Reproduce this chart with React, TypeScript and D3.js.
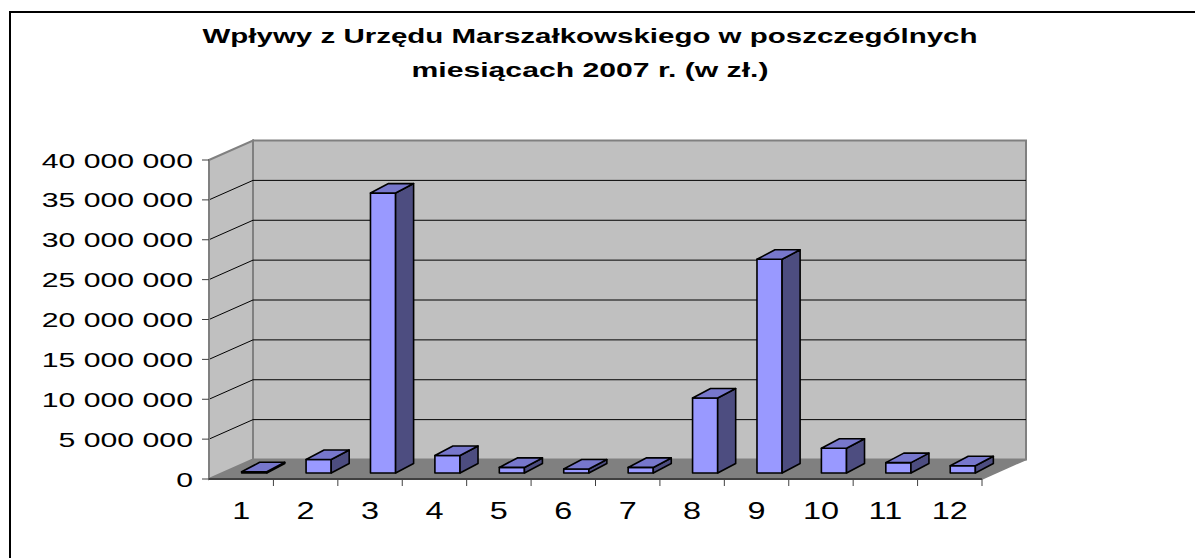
import * as d3 from "d3";

const months = ["1", "2", "3", "4", "5", "6", "7", "8", "9", "10", "11", "12"];
const values = [
  150000, 1700000, 35100000, 2200000, 700000, 500000, 700000, 9400000,
  26800000, 3100000, 1300000, 900000,
];
const yTicks = [0, 5000000, 10000000, 15000000, 20000000, 25000000, 30000000, 35000000, 40000000];
const titleLines = [
  "Wpływy z Urzędu Marszałkowskiego w poszczególnych",
  "miesiącach 2007 r. (w zł.)",
];

const W = 1195;
const H = 558;
const PLOT = { left: 209, right: 982, top: 160, bottom: 479 };
// wall depth (3D offset of back wall)
const DEPTH = { dx: 44, dy: -19.5 };
// bar placement inside the depth
const BAR_FRONT = { dx: 13, dy: -6 };
const BAR_DEPTH = { dx: 18, dy: -9.5 };

const FONT = "Arial, 'Liberation Sans', sans-serif";

const fmt = (v: number) => d3.format(",")(v).replace(/,/g, " ");

export default function App() {
  const x = d3
    .scaleBand<string>()
    .domain(months)
    .range([PLOT.left, PLOT.right])
    .paddingInner(0)
    .paddingOuter(0);

  const y = d3
    .scaleLinear()
    .domain([0, 40000000])
    .range([PLOT.bottom, PLOT.top]);

  const bw = x.bandwidth() * 0.39;
  const y0 = y(0);
  const yTop = y(40000000);
  const bx = PLOT.left + DEPTH.dx;
  const bRight = PLOT.right + DEPTH.dx;

  const pts = (p: [number, number][]) => p.map((d) => d.join(",")).join(" ");

  // category boundaries for tick marks
  const catTicks = months.map((m) => (x(m) ?? 0) + x.bandwidth());

  return (
    <svg
      width={W}
      height={H}
      style={{ position: "absolute", left: 0, top: 0, background: "#fff" }}
      fontFamily={FONT}
    >
      {/* chart area border */}
      <rect x={10} y={12} width={W + 20} height={H + 20} fill="#fff" stroke="#000" strokeWidth={2} />

      {/* title */}
      {titleLines.map((t, i) => (
        <text
          key={t}
          x={590}
          y={i === 0 ? 43 : 77}
          textAnchor="middle"
          fontWeight="bold"
          fontSize={21}
          textLength={i === 0 ? 775 : 357}
          lengthAdjust="spacingAndGlyphs"
          fill="#000"
        >
          {t}
        </text>
      ))}

      {/* back wall */}
      <rect
        x={bx}
        y={yTop + DEPTH.dy}
        width={bRight - bx}
        height={y0 - yTop}
        fill="#c0c0c0"
        stroke="#808080"
        strokeWidth={2}
      />
      {/* side wall */}
      <polygon
        points={pts([
          [PLOT.left, y0],
          [PLOT.left, yTop],
          [bx, yTop + DEPTH.dy],
          [bx, y0 + DEPTH.dy],
        ])}
        fill="#c0c0c0"
        stroke="#808080"
        strokeWidth={2}
      />
      {/* floor */}
      <polygon
        points={pts([
          [PLOT.left, y0],
          [PLOT.right, y0],
          [bRight, y0 + DEPTH.dy],
          [bx, y0 + DEPTH.dy],
        ])}
        fill="#808080"
      />

      {/* gridlines */}
      {yTicks
        .filter((v) => v > 0 && v < 40000000)
        .map((v) => (
          <g key={v}>
            <line
              x1={bx}
              x2={bRight}
              y1={y(v) + DEPTH.dy}
              y2={y(v) + DEPTH.dy}
              stroke="#000"
              strokeWidth={1}
            />
            <line
              x1={PLOT.left}
              x2={bx}
              y1={y(v)}
              y2={y(v) + DEPTH.dy}
              stroke="#000"
              strokeWidth={1}
            />
          </g>
        ))}

      {/* axes */}
      <line x1={PLOT.left} x2={PLOT.left} y1={yTop} y2={y0} stroke="#808080" strokeWidth={2} />
      <line x1={PLOT.left} x2={PLOT.right} y1={y0} y2={y0} stroke="#404040" strokeWidth={2} />
      <line
        x1={PLOT.right}
        x2={bRight}
        y1={y0}
        y2={y0 + DEPTH.dy}
        stroke="#808080"
        strokeWidth={1.5}
      />
      {yTicks.map((v) => (
        <g key={v}>
          <line x1={PLOT.left - 7} x2={PLOT.left} y1={y(v)} y2={y(v)} stroke="#404040" strokeWidth={1} />
          <text
            transform={`translate(${PLOT.left - 16},${y(v) + 7.5}) scale(1.44,1)`}
            textAnchor="end"
            fontSize={21}
            fill="#000"
          >
            {fmt(v)}
          </text>
        </g>
      ))}
      {catTicks.map((cx, i) => (
        <line key={i} x1={cx} x2={cx} y1={y0} y2={y0 + 7} stroke="#404040" strokeWidth={1} />
      ))}
      {months.map((m) => (
        <text
          key={m}
          transform={`translate(${(x(m) ?? 0) + x.bandwidth() / 2},${519}) scale(1.35,1)`}
          textAnchor="middle"
          fontSize={24}
          fill="#000"
        >
          {m}
        </text>
      ))}

      {/* bars */}
      {months.map((m, i) => {
        const cx = (x(m) ?? 0) + x.bandwidth() / 2;
        const l = cx + BAR_FRONT.dx - bw / 2;
        const r = l + bw;
        const b = y0 + BAR_FRONT.dy;
        const t = y(values[i]) + BAR_FRONT.dy;
        const { dx, dy } = BAR_DEPTH;
        return (
          <g key={m} stroke="#000" strokeWidth={1.6} strokeLinejoin="round">
            <polygon points={pts([[l, b], [r, b], [r, t], [l, t]])} fill="#9999ff" />
            <polygon
              points={pts([[r, b], [r + dx, b + dy], [r + dx, t + dy], [r, t]])}
              fill="#4d4d80"
            />
            <polygon
              points={pts([[l, t], [r, t], [r + dx, t + dy], [l + dx, t + dy]])}
              fill="#7777cc"
            />
          </g>
        );
      })}
    </svg>
  );
}
